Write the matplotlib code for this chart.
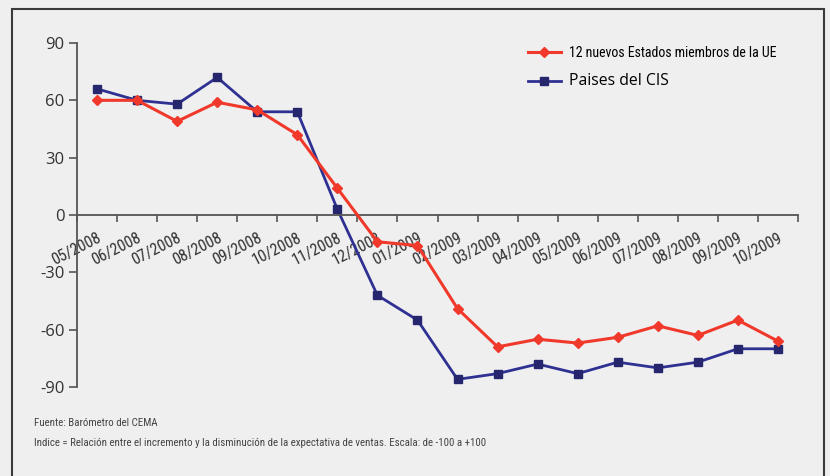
import numpy as np
import matplotlib.pyplot as plt
from matplotlib.patches import Rectangle

meses = ["05/2008", "06/2008", "07/2008", "08/2008", "09/2008", "10/2008",
         "11/2008", "12/2008", "01/2009", "02/2009", "03/2009", "04/2009",
         "05/2009", "06/2009", "07/2009", "08/2009", "09/2009", "10/2009"]
ue12 = [60, 60, 49, 59, 55, 42, 14, -14, -16, -49, -69, -65, -67, -64, -58, -63, -55, -66]
cis = [66, 60, 58, 72, 54, 54, 3, -42, -55, -86, -83, -78, -83, -77, -80, -77, -70, -70]
yticks = [-90, -60, -30, 0, 30, 60, 90]

# condensed look: take a narrow family if there is one, else Lato
narrow = ['Liberation Sans Narrow', 'Roboto Condensed', 'Lato', 'DejaVu Sans']
normal = ['Open Sans', 'DejaVu Sans']
red = '#f0392b'
blue = '#2e3192'
grey = '#555555'

fig = plt.figure(figsize=(8.3, 4.76), dpi=100)
fig.patch.set_facecolor('#efefef')
ax = fig.add_axes([77/830, 1-387/476, (798-77)/830, (387-43)/476])
ax.set_facecolor('none')

x = np.arange(len(meses))
ax.plot(x, ue12, color=red, lw=2.2, marker='D', ms=5.5, mfc=red, mec=red,
        label="12 nuevos Estados miembros de la UE", zorder=3)
ax.plot(x, cis, color=blue, lw=2.0, marker='s', ms=6, mfc='#26266e', mec='#26266e',
        label="Paises del CIS", zorder=2)

ax.set_xlim(-0.5, len(meses)-0.5)
ax.set_ylim(-90, 90)
for s in ['top', 'right']:
    ax.spines[s].set_visible(False)
ax.spines['bottom'].set_position(('data', 0))
for s in ['left', 'bottom']:
    ax.spines[s].set_color(grey)
    ax.spines[s].set_linewidth(1.3)

ax.set_yticks(yticks)
ax.set_yticklabels([str(v) for v in yticks], family=normal, fontsize=12, color='#333333')
ax.tick_params(axis='y', length=6, width=1.2, color=grey, pad=3)

ax.set_xticks(np.arange(len(meses)+1)-0.5, minor=True)
ax.set_xticks(x)
ax.set_xticklabels(meses, rotation=27, ha='right', rotation_mode='anchor',
                   family=narrow, fontsize=11.5, color='#333333')
ax.tick_params(axis='x', which='major', length=0, pad=11)
ax.tick_params(axis='x', which='minor', length=5, width=1.2, color=grey)

leg = ax.legend(loc='upper left', bbox_to_anchor=(522/830, 1-40/476), bbox_transform=fig.transFigure,
                frameon=False, fontsize=10, handlelength=2.4, handletextpad=0.6,
                labelspacing=1.0, borderaxespad=0)
t1, t2 = leg.get_texts()
t1.set_fontfamily(narrow)
t1.set_fontsize(10)
t2.set_fontfamily(normal)
t2.set_fontsize(11.3)

fig.text(34/830, 1-423/476, "Fuente: Barómetro del CEMA", family=narrow, fontsize=7.8,
         color='#444444', va='center')
fig.text(34/830, 1-443/476,
         "Indice = Relación entre el incremento y la disminución de la expectativa de ventas. Escala: de -100 a +100",
         family=narrow, fontsize=7.8, color='#444444', va='center')

fig.add_artist(Rectangle((12/830, -0.05), (824-12)/830, 1.05-9/476, transform=fig.transFigure,
                         fill=False, edgecolor='#3a3a3a', lw=1.5))

fig.savefig('out.png', dpi=100, facecolor=fig.get_facecolor())
